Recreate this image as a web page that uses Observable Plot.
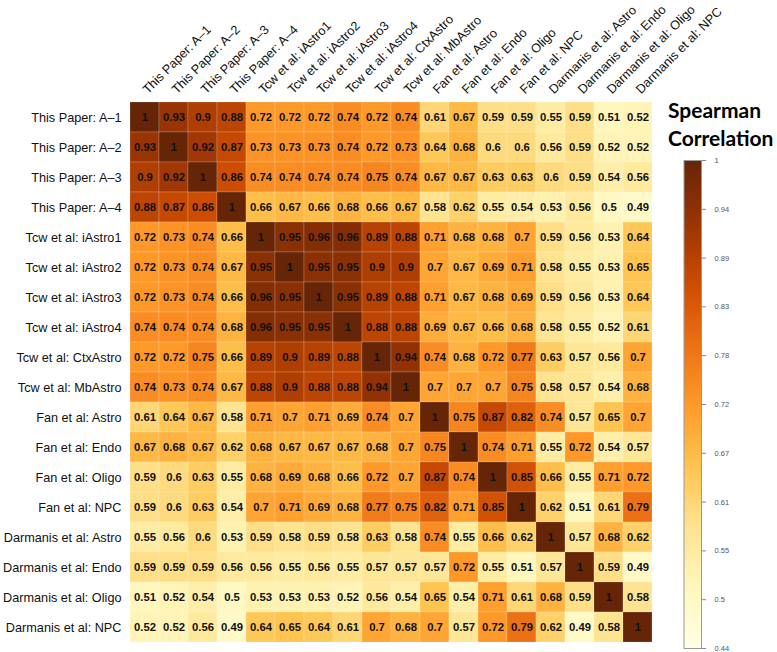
<!DOCTYPE html>
<html>
<head>
<meta charset="utf-8">
<script src="https://cdn.jsdelivr.net/npm/d3@7"></script>
<script src="https://cdn.jsdelivr.net/npm/@observablehq/plot@0.6"></script>
<style>
  html, body { margin: 0; padding: 0; background: #fff; }
  #wrap { position: relative; width: 777px; height: 652px; overflow: hidden; }
  #title { position: absolute; left: 668px; top: 96px; font-family: Lato, "Open Sans", sans-serif; font-weight: bold; font-size: 21px; line-height: 28px; color: #000; white-space: nowrap; }
  #bar { position: absolute; left: 660px; top: 150px; }
</style>
</head>
<body>
<div id="wrap"><div id="title">Spearman<br>Correlation</div><div id="bar"></div></div>
<script>
// Sample labels (rows and columns share the same order)
const samples = [
  "This Paper: A–1", "This Paper: A–2", "This Paper: A–3", "This Paper: A–4",
  "Tcw et al: iAstro1", "Tcw et al: iAstro2", "Tcw et al: iAstro3", "Tcw et al: iAstro4",
  "Tcw et al: CtxAstro", "Tcw et al: MbAstro",
  "Fan et al: Astro", "Fan et al: Endo", "Fan et al: Oligo", "Fan et al: NPC",
  "Darmanis et al: Astro", "Darmanis et al: Endo", "Darmanis et al: Oligo", "Darmanis et al: NPC"
];

// Spearman correlation, one array per row
const paperA1   = [1, 0.93, 0.9, 0.88, 0.72, 0.72, 0.72, 0.74, 0.72, 0.74, 0.61, 0.67, 0.59, 0.59, 0.55, 0.59, 0.51, 0.52];
const paperA2   = [0.93, 1, 0.92, 0.87, 0.73, 0.73, 0.73, 0.74, 0.72, 0.73, 0.64, 0.68, 0.6, 0.6, 0.56, 0.59, 0.52, 0.52];
const paperA3   = [0.9, 0.92, 1, 0.86, 0.74, 0.74, 0.74, 0.74, 0.75, 0.74, 0.67, 0.67, 0.63, 0.63, 0.6, 0.59, 0.54, 0.56];
const paperA4   = [0.88, 0.87, 0.86, 1, 0.66, 0.67, 0.66, 0.68, 0.66, 0.67, 0.58, 0.62, 0.55, 0.54, 0.53, 0.56, 0.5, 0.49];
const tcwAstro1 = [0.72, 0.73, 0.74, 0.66, 1, 0.95, 0.96, 0.96, 0.89, 0.88, 0.71, 0.68, 0.68, 0.7, 0.59, 0.56, 0.53, 0.64];
const tcwAstro2 = [0.72, 0.73, 0.74, 0.67, 0.95, 1, 0.95, 0.95, 0.9, 0.9, 0.7, 0.67, 0.69, 0.71, 0.58, 0.55, 0.53, 0.65];
const tcwAstro3 = [0.72, 0.73, 0.74, 0.66, 0.96, 0.95, 1, 0.95, 0.89, 0.88, 0.71, 0.67, 0.68, 0.69, 0.59, 0.56, 0.53, 0.64];
const tcwAstro4 = [0.74, 0.74, 0.74, 0.68, 0.96, 0.95, 0.95, 1, 0.88, 0.88, 0.69, 0.67, 0.66, 0.68, 0.58, 0.55, 0.52, 0.61];
const tcwCtx    = [0.72, 0.72, 0.75, 0.66, 0.89, 0.9, 0.89, 0.88, 1, 0.94, 0.74, 0.68, 0.72, 0.77, 0.63, 0.57, 0.56, 0.7];
const tcwMb     = [0.74, 0.73, 0.74, 0.67, 0.88, 0.9, 0.88, 0.88, 0.94, 1, 0.7, 0.7, 0.7, 0.75, 0.58, 0.57, 0.54, 0.68];
const fanAstro  = [0.61, 0.64, 0.67, 0.58, 0.71, 0.7, 0.71, 0.69, 0.74, 0.7, 1, 0.75, 0.87, 0.82, 0.74, 0.57, 0.65, 0.7];
const fanEndo   = [0.67, 0.68, 0.67, 0.62, 0.68, 0.67, 0.67, 0.67, 0.68, 0.7, 0.75, 1, 0.74, 0.71, 0.55, 0.72, 0.54, 0.57];
const fanOligo  = [0.59, 0.6, 0.63, 0.55, 0.68, 0.69, 0.68, 0.66, 0.72, 0.7, 0.87, 0.74, 1, 0.85, 0.66, 0.55, 0.71, 0.72];
const fanNPC    = [0.59, 0.6, 0.63, 0.54, 0.7, 0.71, 0.69, 0.68, 0.77, 0.75, 0.82, 0.71, 0.85, 1, 0.62, 0.51, 0.61, 0.79];
const darAstro  = [0.55, 0.56, 0.6, 0.53, 0.59, 0.58, 0.59, 0.58, 0.63, 0.58, 0.74, 0.55, 0.66, 0.62, 1, 0.57, 0.68, 0.62];
const darEndo   = [0.59, 0.59, 0.59, 0.56, 0.56, 0.55, 0.56, 0.55, 0.57, 0.57, 0.57, 0.72, 0.55, 0.51, 0.57, 1, 0.59, 0.49];
const darOligo  = [0.51, 0.52, 0.54, 0.5, 0.53, 0.53, 0.53, 0.52, 0.56, 0.54, 0.65, 0.54, 0.71, 0.61, 0.68, 0.59, 1, 0.58];
const darNPC    = [0.52, 0.52, 0.56, 0.49, 0.64, 0.65, 0.64, 0.61, 0.7, 0.68, 0.7, 0.57, 0.72, 0.79, 0.62, 0.49, 0.58, 1];

// Colour bar range and tick labels
const colorMin = 0.44, colorMax = 1;
const legendTickLabels = ["0.44", "0.5", "0.55", "0.61", "0.67", "0.72", "0.78", "0.83", "0.89", "0.94", "1"];
const palette = ["#ffffe5", "#fff7bc", "#fee391", "#fec44f", "#fe9929", "#ec7014", "#cc4c02", "#993404", "#662506"];

const matrix = [paperA1, paperA2, paperA3, paperA4, tcwAstro1, tcwAstro2, tcwAstro3, tcwAstro4,
  tcwCtx, tcwMb, fanAstro, fanEndo, fanOligo, fanNPC, darAstro, darEndo, darOligo, darNPC];
const cells = [];
matrix.forEach((row, i) => row.forEach((v, j) => cells.push({row: samples[i], col: samples[j], value: v})));

const interp = d3.piecewise(d3.interpolateRgb, palette);
const colorOpts = {type: "linear", domain: [colorMin, colorMax], interpolate: interp, clamp: true};
const font = "'Liberation Sans', Arial, Helvetica, sans-serif";

const main = Plot.plot({
  width: 777, height: 652,
  marginLeft: 126, marginRight: 121.5, marginTop: 95, marginBottom: 4,
  style: {fontFamily: font, background: "white", color: "#000"},
  x: {type: "band", domain: samples, padding: 0, axis: null},
  y: {type: "band", domain: samples, padding: 0, axis: null},
  color: colorOpts,
  marks: [
    Plot.cell(cells, {x: "col", y: "row", fill: "value", stroke: "white", strokeOpacity: 0.3, strokeWidth: 0.6}),
    Plot.text(cells, {x: "col", y: "row", text: d => String(d.value), fontWeight: "bold", fontSize: 11.3, fill: "#111"}),
    Plot.axisY({anchor: "left", tickSize: 0, tickPadding: 5, fontSize: 12.7, label: null, fill: "#111"}),
    Plot.axisX({anchor: "top", tickSize: 0, tickPadding: 4, tickRotate: -45, fontSize: 12.7, label: null, fill: "#111"})
  ]
});
document.getElementById("wrap").insertBefore(main, document.getElementById("wrap").firstChild);

// Colour bar
const tickStep = (colorMax - colorMin) / (legendTickLabels.length - 1);
const tickPositions = legendTickLabels.map((_, i) => colorMin + i * tickStep);

const bar = Plot.plot({
  width: 117, height: 502,
  marginLeft: 23.5, marginRight: 76, marginTop: 10, marginBottom: 4,
  style: {fontFamily: font, background: "transparent", color: "#444"},
  x: {domain: [0, 1], axis: null},
  y: {domain: [colorMin, colorMax], axis: null},
  color: colorOpts,
  marks: [
    Plot.raster({x1: 0, x2: 1, y1: colorMin, y2: colorMax, width: 2, height: 488, fill: (x, y) => y}),
    Plot.frame({stroke: "#999", strokeWidth: 1}),
    Plot.axisY({anchor: "right", ticks: tickPositions, tickSize: 4, tickPadding: 9, fontSize: 7.5, label: null,
      stroke: "#888", fill: "#555",
      tickFormat: d => legendTickLabels[Math.round((d - colorMin) / tickStep)]})
  ]
});
document.getElementById("bar").appendChild(bar);
</script>
</body>
</html>
